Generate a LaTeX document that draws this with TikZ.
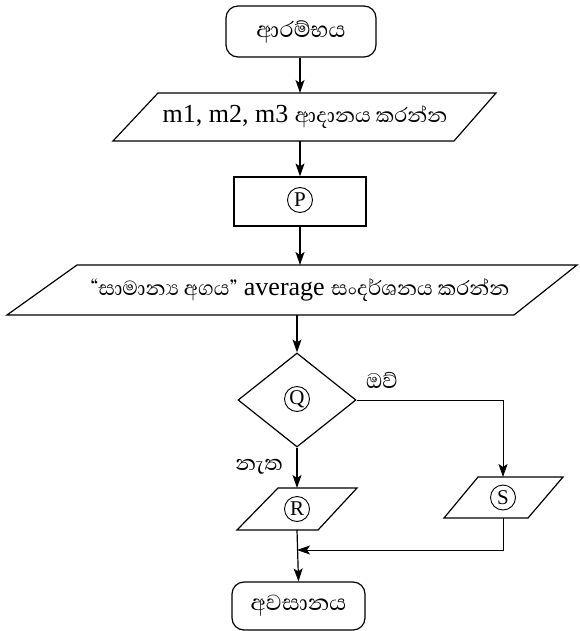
\documentclass[tikz,border=0pt]{standalone}
\usepackage{fontspec}
\setmainfont{Liberation Serif}
\newfontfamily\sinfont[Script=Sinhala]{Abhaya Libre}
\usetikzlibrary{arrows.meta,shapes.geometric}
\newcommand\sinsz{\sinfont\fontsize{26}{28}\selectfont}
\begin{document}
\begin{tikzpicture}[x=1pt,y=-1pt,
  arr/.style={line width=1.2pt,-{Stealth[length=13pt,width=9pt,inset=3pt]}},
  arrthin/.style={line width=0.9pt,-{Stealth[length=13pt,width=9pt,inset=3pt]}},
  term/.style={draw,line width=1.2pt,rounded corners=12pt,minimum width=150pt,minimum height=51pt,inner sep=0pt,font=\sinfont\fontsize{28}{30}\selectfont},
  proc/.style={draw,line width=1.2pt,minimum width=132pt,minimum height=49pt,inner sep=0pt},
  dec/.style={draw,line width=1.2pt,diamond,minimum width=118pt,minimum height=94pt,inner sep=0pt},
  io/.style={line width=1.2pt,line join=miter},
  circ/.style={circle,draw,line width=0.9pt,inner sep=0pt,minimum size=25pt,font=\fontsize{21}{21}\selectfont},
  txt/.style={inner sep=0pt,font=\fontsize{26}{28}\selectfont},
  lbl/.style={font=\sinfont\fontsize{27}{29}\selectfont,inner sep=0pt}
]
\useasboundingbox (0,0) rectangle (579,631);

% start
\node[term] (start) at (301,31.5) {ආරම්භය};

% input
\draw[io] (158,93) -- (496,93) -- (454,141) -- (113,141) -- cycle;
\node[txt] (inp) at (305,117) {m1, m2, m3 {\sinsz ආදානය කරන්න}};
\coordinate (inpT) at (300,93);
\coordinate (inpB) at (300,141);

% process P
\node[proc] (P) at (300,201.5) {};
\node[circ] (Pc) at (300,200) {P};

% output
\draw[io] (77,265) -- (577,265) -- (514,315) -- (7,315) -- cycle;
\node[txt] (out) at (300,290) {{\sinsz “සාමාන්‍ය අගය”} average {\sinsz සංදර්ශනය කරන්න}};
\coordinate (outT) at (300,265);
\coordinate (outB) at (297,315);

% decision Q
\node[dec] (Q) at (297,400) {};
\node[circ] (Qc) at (297,399) {Q};

% R
\draw[io] (278,488) -- (357,488) -- (318,530) -- (237,530) -- cycle;
\node[circ] (Rc) at (297,509) {R};
\coordinate (RT) at (297,488);
\coordinate (RB) at (297,530);

% S
\draw[io] (478,477) -- (563,477) -- (528,518) -- (444,518) -- cycle;
\node[circ] (Sc) at (503,497.5) {S};
\coordinate (ST) at (503,477);
\coordinate (SB) at (503,518);

% end
\node[term] (end) at (298.5,606) [minimum width=133pt,minimum height=48pt] {අවසානය};
\coordinate (M) at (297,550);

% labels
\node[lbl] (yes) at (382,380) {ඔව්};
\node[lbl] (no) at (259,467) {නැත};

% connectors
\draw[arr] (start.south -| inpT) -- (inpT);
\draw[arr] (inpB) -- (P.north);
\draw[arr] (P.south) -- (outT);
\draw[arr] (outB) -- (Q.north);
\draw[arrthin] (Q.east) -| (ST);
\draw[arr] (Q.south) -- (RT);
\draw[arr] (RB) -- (end.north);
\draw[arrthin] (SB) |- (M);
\end{tikzpicture}
\end{document}
